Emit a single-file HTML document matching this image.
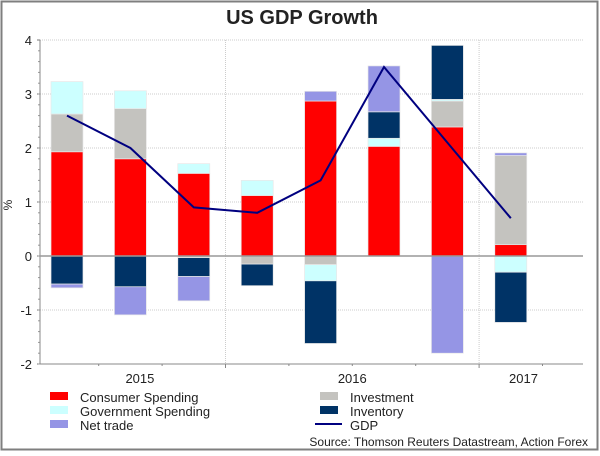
<!DOCTYPE html>
<html><head><meta charset="utf-8"><style>
body{margin:0;background:#fff;font-family:"Liberation Sans",Arial,sans-serif}
svg text{font-family:"Liberation Sans",Arial,sans-serif}
</style></head><body>
<svg id="chart" width="600" height="451" xmlns="http://www.w3.org/2000/svg">
<rect x="1.5" y="1.5" width="596" height="448" fill="#fff" stroke="#7f7f7f" stroke-width="2"/>
<text x="302" y="24" font-size="20" font-weight="bold" text-anchor="middle" fill="#222">US GDP Growth</text>
<g id="grid"></g><g id="bars"></g><g id="axes"></g><g id="line"></g>
<text x="12" y="205" font-size="12" text-anchor="middle" transform="rotate(-90 12 205)" fill="#222">%</text>
<g font-size="13" fill="#222">
<rect x="50" y="392" width="18" height="8" fill="#ff0000"/>
<text x="80" y="402">Consumer Spending</text>
<rect x="50" y="406" width="18" height="8" fill="#ccffff"/>
<text x="80" y="416">Government Spending</text>
<rect x="50" y="420" width="18" height="8" fill="#9595e5"/>
<text x="80" y="430">Net trade</text>
<rect x="320" y="392" width="18" height="8" fill="#c4c3bf"/>
<text x="350" y="402">Investment</text>
<rect x="320" y="406" width="18" height="8" fill="#003366"/>
<text x="350" y="416">Inventory</text>
<line x1="315" y1="424" x2="342" y2="424" stroke="#000080" stroke-width="2"/>
<text x="350" y="430">GDP</text>
</g>
<text x="588" y="446" font-size="12" text-anchor="end" fill="#222">Source: Thomson Reuters Datastream, Action Forex</text>
</svg>
<script>
const quarters=["2015Q2","2015Q3","2015Q4","2016Q1","2016Q2","2016Q3","2016Q4","2017Q1"];
const consumer=[1.93,1.8,1.53,1.12,2.87,2.03,2.39,0.21];
const investment=[0.7,0.93,-0.03,-0.15,-0.16,0,0.48,1.65];
const government=[0.6,0.33,0.18,0.28,-0.3,0.15,0.03,-0.3];
const inventory=[-0.52,-0.57,-0.35,-0.4,-1.16,0.49,1.0,-0.93];
const netTrade=[-0.07,-0.52,-0.45,0,0.18,0.85,-1.8,0.05];
const gdp=[2.6,2.0,0.9,0.8,1.4,3.5,2.1,0.7];
const yTicks=[-2,-1,0,1,2,3,4];
const yearLabels=["2015","2016","2017"];
const yearPos=[1.15,4.5,7.2];
const yearBounds=[2.5,6.5];

const NS="http://www.w3.org/2000/svg";
const X0=40,X1=583,Y4=40,Y_2=364;
const yS=v=>Y4+(4-v)*(Y_2-Y4)/6;
const step=63.4,first=67;
const xS=i=>first+i*step;
function mk(tag,attrs,parent){const e=document.createElementNS(NS,tag);for(const k in attrs)e.setAttribute(k,attrs[k]);parent.appendChild(e);return e;}
const grid=document.getElementById('grid'),bars=document.getElementById('bars'),axes=document.getElementById('axes'),lineG=document.getElementById('line');
yTicks.forEach(t=>{
 if(t!==0&&t!==-2){const g=mk('line',{x1:X0,x2:X1,y1:yS(t),y2:yS(t),stroke:'#ccc','stroke-dasharray':'1,1'},grid);
 
 }
 const tk=mk('line',{x1:X0-3,x2:X0,y1:yS(t),y2:yS(t),stroke:'#777'},axes);
 
 
 const tx=mk('text',{x:X0-8,y:yS(t)+5,'font-size':13,'text-anchor':'end',fill:'#222'},axes);tx.textContent=t;
 
 
});
for(let v=-2;v<4;v+=0.2){const m=mk('line',{x1:X0-2,x2:X0,y1:yS(v),y2:yS(v),stroke:'#999'},axes);
 
 }
yearBounds.forEach(b=>{const x=xS(b);const g=mk('line',{x1:x,x2:x,y1:Y4,y2:Y_2,stroke:'#ccc','stroke-dasharray':'1,1'},grid);
 
 });
const series=[["consumer",consumer,"#ff0000"],["investment",investment,"#c4c3bf"],["government",government,"#ccffff"],["inventory",inventory,"#003366"],["net-trade",netTrade,"#9595e5"]];
quarters.forEach((q,i)=>{
 let pos=0,neg=0;
 series.forEach(([n,arr,c])=>{
  const v=arr[i];if(!v)return;
  let a,b;if(v>0){a=pos;b=pos+v;pos=b;}else{a=neg;b=neg+v;neg=b;}
  const r=mk('rect',{x:xS(i)-16,width:32,y:yS(Math.max(a,b)),height:Math.abs(yS(a)-yS(b)),fill:c,stroke:'#e8e8e8','stroke-width':0.7},bars);
  
  
 });
});
const xa=mk('line',{x1:X0,x2:X1,y1:Y_2,y2:Y_2,stroke:'#888'},axes);


const ya=mk('line',{x1:X0,x2:X0,y1:Y4,y2:Y_2,stroke:'#888'},axes);


const zl=mk('line',{x1:X0,x2:X1,y1:yS(0),y2:yS(0),stroke:'#999','stroke-width':1.5},axes);


for(let i=0;i<quarters.length;i++){const b=i+0.5;const x=xS(b);const major=yearBounds.includes(b);const t=mk('line',{x1:x,x2:x,y1:Y_2,y2:Y_2+(major?4:2),stroke:'#888'},axes);
 
 }
yearLabels.forEach((l,k)=>{const t=mk('text',{x:xS(yearPos[k]),y:383,'font-size':13,'text-anchor':'middle',fill:'#222'},axes);t.textContent=l;
 
 });
const pl=mk('polyline',{points:gdp.map((v,i)=>xS(i)+','+yS(v)).join(' '),fill:'none',stroke:'#000080','stroke-width':2},lineG);


</script>
</body></html>
